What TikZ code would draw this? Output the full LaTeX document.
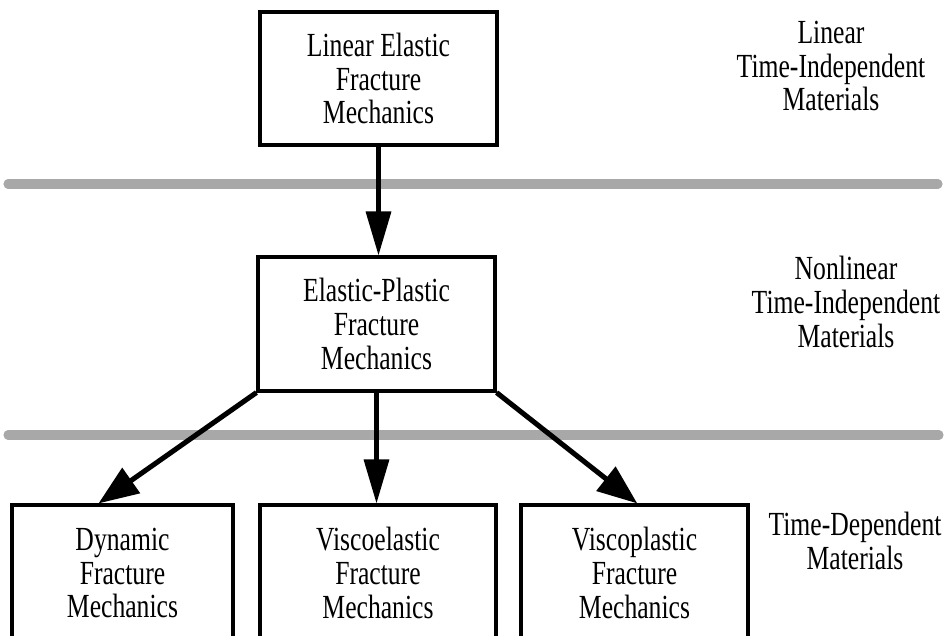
\documentclass[tikz,border=0pt]{standalone}
\usepackage{fontspec}
\setmainfont{Liberation Serif}[FakeStretch=0.76]
\usetikzlibrary{arrows.meta}
\tikzstyle{every picture}+=[remember picture]
\tikzset{
	fmbox/.style={draw, line width=2.2pt, align=center, inner sep=0pt,
		font=\fontsize{24}{24}\selectfont},
	regime/.style={align=center, font=\fontsize{24}{24}\selectfont},
	divider/.style={line width=6.5pt, line cap=round, color=black!34},
	flow/.style={line width=2.9pt, -{Triangle[length=11mm,width=6.2mm]}},
	slantflow/.style={line width=3.6pt, -{Triangle[length=10mm,width=7.5mm]}}
}

\begin{document}
\begin{tikzpicture}[x=0.025cm, y=-0.025cm]
	\clip (0,0) rectangle (948,636);
	% boxes
	\node[fmbox, minimum width=5.925cm, minimum height=3.325cm] (lefm) at (378.5,78.5)
		{Linear Elastic\\Fracture\\Mechanics};
	\node[fmbox, minimum width=5.925cm, minimum height=3.35cm] (epfm) at (376.5,324)
		{Elastic-Plastic\\Fracture\\Mechanics};
	\node[fmbox, minimum width=5.525cm, minimum height=3.4cm] (dyn) at (122.5,573)
		{Dynamic\\Fracture\\Mechanics};
	\node[fmbox, minimum width=5.9cm, minimum height=3.4cm] (vefm) at (378,573)
		{Viscoelastic\\Fracture\\Mechanics};
	\node[fmbox, minimum width=5.675cm, minimum height=3.4cm] (vpfm) at (634.5,573)
		{Viscoplastic\\Fracture\\Mechanics};
	% material regimes
	\node[regime] (lin) at (831,66) {Linear\\Time-Independent\\Materials};
	\node[regime] (nonlin) at (846,302) {Nonlinear\\Time-Independent\\Materials};
	\node[regime] (tdep) at (855,541) {Time-Dependent\\Materials};
	% dividers
	\coordinate (d1a) at (8,184);
	\coordinate (d1b) at (938,184);
	\coordinate (d2a) at (8,435);
	\coordinate (d2b) at (939,435);
	\draw[divider] (d1a) -- (d1b);
	\draw[divider] (d2a) -- (d2b);
	% arrows
	\draw[flow] (lefm.south) -- (epfm.north -| lefm.south);
	\draw[slantflow] (epfm.south west) -- ([xshift=-0.6cm]dyn.north);
	\draw[flow] (epfm.south) -- (epfm.south |- vefm.north);
	\draw[slantflow] (epfm.south east) -- ([xshift=0.07cm]vpfm.north);
\end{tikzpicture}
\end{document}
